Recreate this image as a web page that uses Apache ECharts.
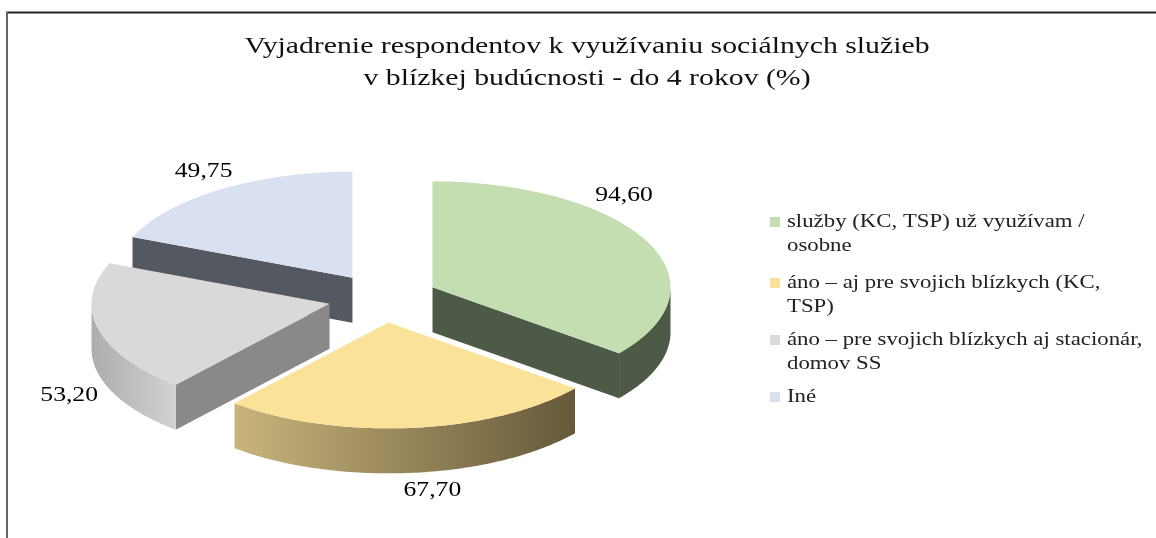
<!DOCTYPE html>
<html>
<head>
<meta charset="utf-8">
<script src="https://cdn.jsdelivr.net/npm/echarts@6/dist/echarts.min.js"></script>
<style>
  html, body { margin: 0; padding: 0; background: #fff; }
  #chart { width: 1156px; height: 538px; }
</style>
</head>
<body>
<div id="chart"></div>
<script>
// data
const categories = [
  'služby (KC, TSP) už využívam / osobne',
  'áno – aj pre svojich blízkych (KC, TSP)',
  'áno – pre svojich blízkych aj stacionár, domov SS',
  'Iné'
]
const legendText = [
  'služby (KC, TSP) už využívam /\nosobne',
  'áno – aj pre svojich blízkych (KC,\nTSP)',
  'áno – pre svojich blízkych aj stacionár,\ndomov SS',
  'Iné'
]
const values = [94.60, 67.70, 53.20, 49.75]
const titleText = 'Vyjadrenie respondentov k využívaniu sociálnych služieb\nv blízkej budúcnosti - do 4 rokov (%)'

// look
const topColors = ['#C4DEB1', '#FAE298', '#D9D9D9', '#D9E0F0']
const sideStyles = [
  { arc: '#4D5A47', start: '#4D5A47', end: '#4D5A47' },
  { arc: ['#C9B47B', '#66593A'], start: '#66593A', end: '#66593A' },
  { arc: ['#ADADAD', '#D2D2D2'], start: '#898989', end: '#898989' },
  { arc: '#545861', start: '#545861', end: '#545861' }
]
const labelAngles = [43, 171, 248, 328] // where excel put the numbers (deg clockwise from top)
const drawOrder = [3, 0, 2, 1] // back to front
const stretch = 1.22 // the source picture is stretched sideways

const pie = { cx: 383, cy: 298, a: 238, b: 106, depth: 45, explode: 55 }

const total = values.reduce((s, v) => s + v, 0)
const angles = []
let acc = 0
values.forEach(v => {
  const s = acc / total * 360
  acc += v
  angles.push([s, acc / total * 360])
})

const rad = d => d * Math.PI / 180
const pt = (c, d, k = 1, dy = 0) => [c[0] + pie.a * k * Math.sin(rad(d)), c[1] - pie.b * k * Math.cos(rad(d)) + dy]

function arcPts (c, d1, d2, dy = 0) {
  const out = []
  const n = Math.max(2, Math.ceil(Math.abs(d2 - d1)))
  for (let i = 0; i <= n; i++) out.push(pt(c, d1 + (d2 - d1) * i / n, 1, dy))
  return out
}

function fillOf (f) {
  if (Array.isArray(f)) {
    return { type: 'linear', x: 0, y: 0, x2: 1, y2: 0, colorStops: [{ offset: 0, color: f[0] }, { offset: 1, color: f[1] }] }
  }
  return f
}

function renderSlice (i) {
  const [s, e] = angles[i]
  const mid = (s + e) / 2
  const c = [pie.cx + pie.explode * Math.sin(rad(mid)), pie.cy - pie.explode * Math.cos(rad(mid)) * pie.b / pie.a]
  const h = pie.depth
  const st = sideStyles[i]
  const kids = []
  // start edge wall, faces the viewer when sin(start) < 0
  if (Math.sin(rad(s)) < -0.01) {
    const p = pt(c, s)
    kids.push({ type: 'polygon', shape: { points: [c, p, [p[0], p[1] + h], [c[0], c[1] + h]] }, style: { fill: st.start } })
  }
  // end edge wall
  if (Math.sin(rad(e)) > 0.01) {
    const p = pt(c, e)
    kids.push({ type: 'polygon', shape: { points: [c, p, [p[0], p[1] + h], [c[0], c[1] + h]] }, style: { fill: st.end } })
  }
  // outer curved wall, front half only
  const f1 = Math.max(s, 90)
  const f2 = Math.min(e, 270)
  if (f2 > f1) {
    const upper = arcPts(c, f1, f2)
    const lower = arcPts(c, f1, f2, h).reverse()
    kids.push({ type: 'polygon', shape: { points: upper.concat(lower) }, style: { fill: fillOf(st.arc) } })
  }
  // top face
  kids.push({ type: 'polygon', shape: { points: [c].concat(arcPts(c, s, e)) }, style: { fill: topColors[i] } })
  // value label
  const la = labelAngles[i]
  const lp = pt(c, la, 1.18, Math.cos(rad(la)) < 0 ? h : 0)
  kids.push({
    type: 'text',
    x: lp[0], y: lp[1],
    scaleX: stretch,
    style: {
      text: values[i].toFixed(2).replace('.', ','),
      font: '21px "Liberation Serif"',
      fill: '#000',
      align: 'center',
      verticalAlign: 'middle'
    }
  })
  return { type: 'group', children: kids }
}

const series = categories.map((name, i) => ({
  name,
  type: 'custom',
  coordinateSystem: 'none',
  z: 2 + drawOrder.indexOf(i),
  silent: true,
  data: [[values[i]]],
  renderItem: () => renderSlice(i)
}))

// legend built by hand so the marker sits on the first text line
const legendTop = [222, 283, 340, 397]
const legendItems = []
categories.forEach((name, i) => {
  legendItems.push({
    type: 'rect',
    shape: { x: 770, y: legendTop[i] - 5, width: 10, height: 10 },
    style: { fill: topColors[i] }
  })
  legendItems.push({
    type: 'text',
    x: 787, y: legendTop[i] - 12,
    scaleX: stretch - 0.02,
    style: {
      text: legendText[i],
      font: '19px "Liberation Serif"',
      lineHeight: 24,
      fill: '#222'
    }
  })
})

const myChart = echarts.init(document.getElementById('chart'))
myChart.setOption({
  animation: false,
  graphic: [
    { type: 'line', shape: { x1: 6, y1: 12.5, x2: 1156, y2: 12.5 }, style: { stroke: '#222', lineWidth: 2 } },
    { type: 'line', shape: { x1: 7, y1: 12, x2: 7, y2: 538 }, style: { stroke: '#666', lineWidth: 2 } },
    {
      type: 'text',
      x: 587, y: 63,
      scaleX: stretch + 0.02,
      style: {
        text: titleText,
        font: '24px "Liberation Serif"',
        lineHeight: 32,
        fill: '#111',
        align: 'center',
        verticalAlign: 'middle'
      }
    },
    ...legendItems
  ],
  series
})
</script>
</body>
</html>
